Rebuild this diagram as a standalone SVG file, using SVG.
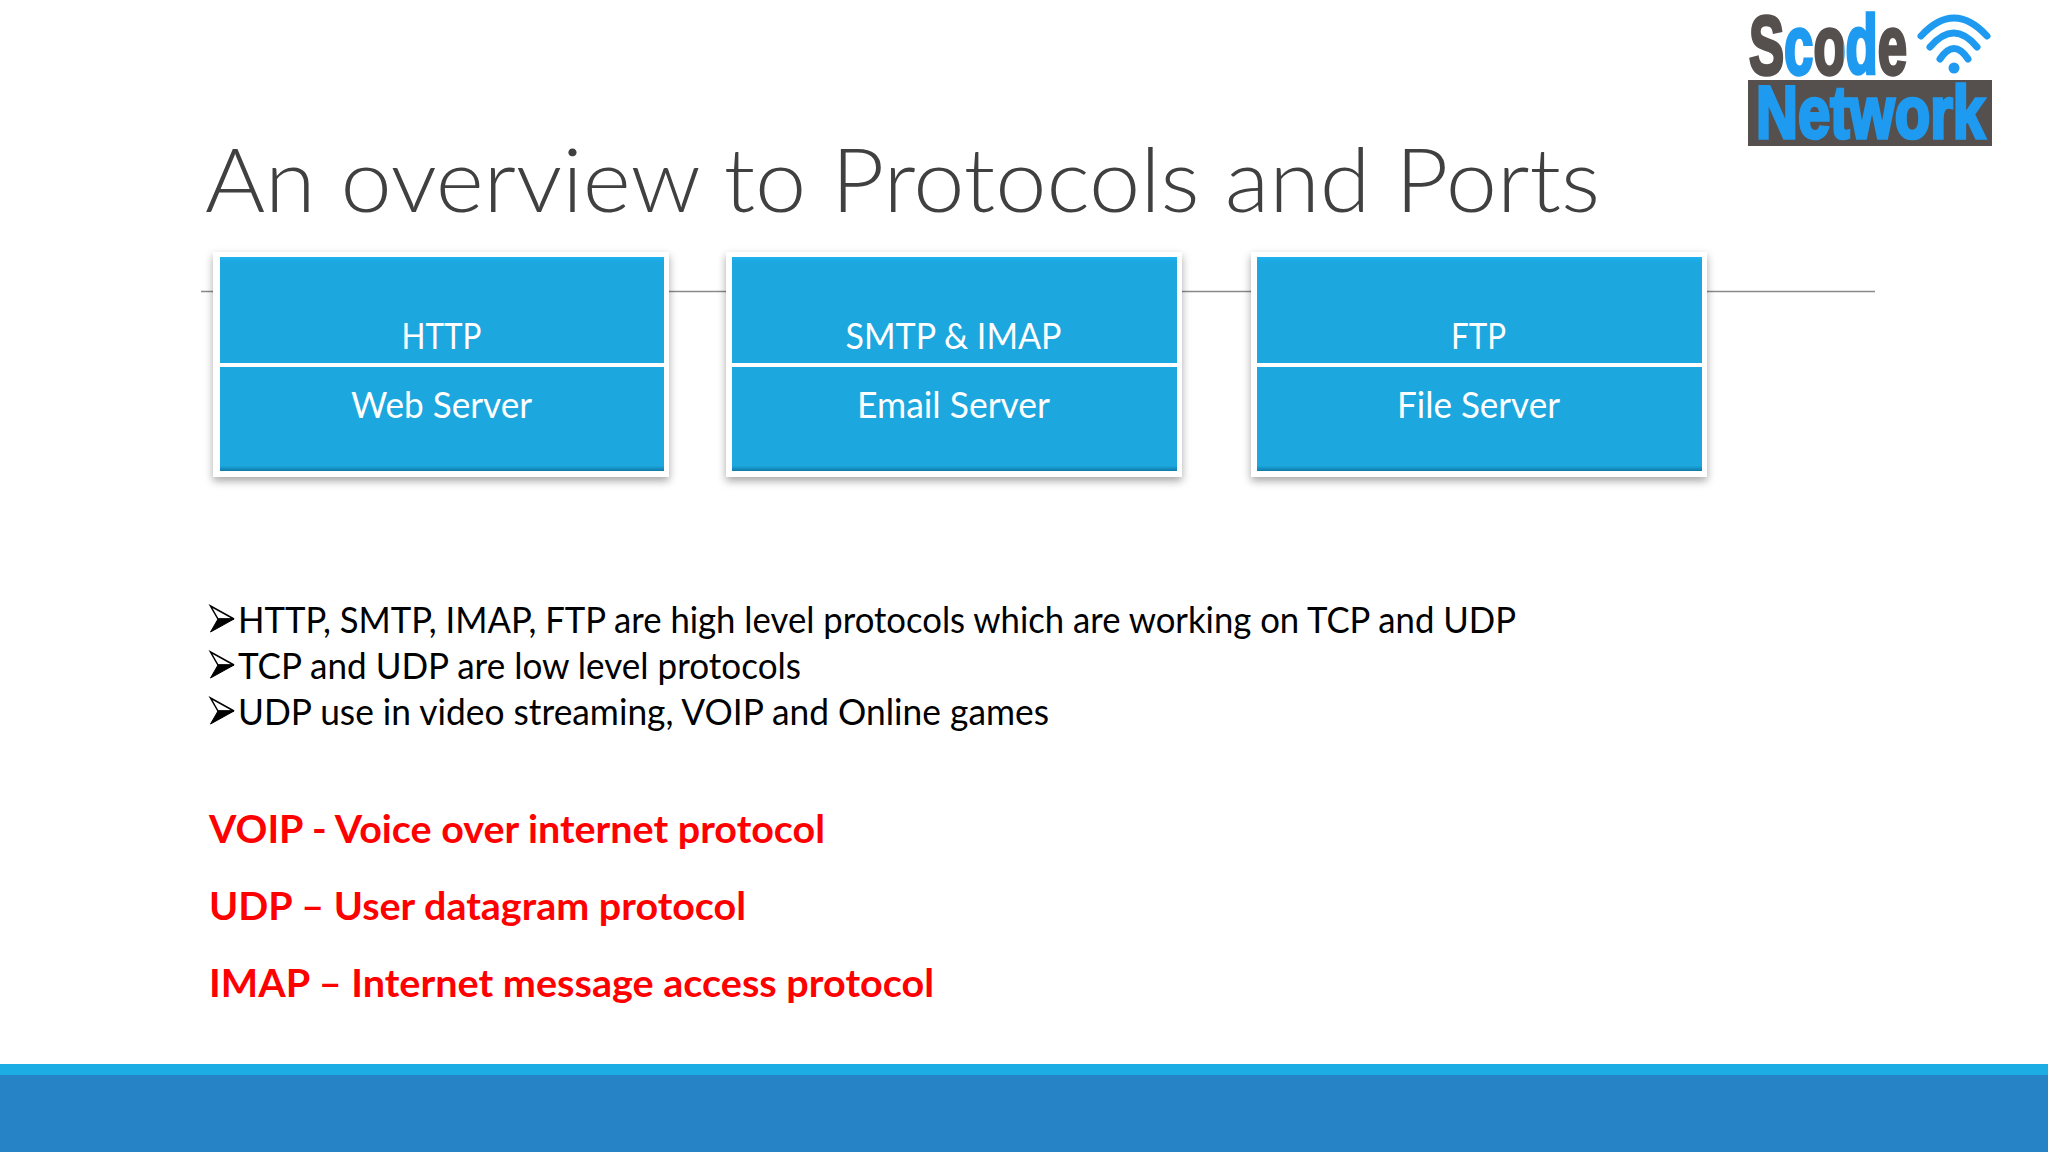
<svg xmlns="http://www.w3.org/2000/svg" width="2048" height="1152" viewBox="0 0 2048 1152">
<style>
text{font-family:Lato,"Open Sans",Arial,sans-serif}
.t{font-size:88px;font-weight:300;fill:#404040}
.w{font-size:36px;fill:#fff;text-anchor:middle}
.b{font-size:36px;fill:#000}
.r{font-size:39px;font-weight:700;fill:#f00}
.o{fill:#fff;filter:url(#sh)}
.c1{fill:url(#cellTop)}
.c2{fill:url(#cellBottom)}
.d{fill:none;stroke:#1e9bf0;stroke-width:7;stroke-linecap:round}
.l{font-family:"Liberation Sans",Arial,sans-serif;font-weight:700;stroke-width:3.500}
.u{fill:#1e9bf0;stroke:#1e9bf0}
.s{fill:url(#scode);stroke:url(#scode)}
</style>
<defs>
<filter id="sh" x="-5%" y="-5%" width="110%" height="115%"><feDropShadow dx="0" dy="4" stdDeviation="4.500" flood-color="#000" flood-opacity=".35"/></filter>
<linearGradient id="cellTop" x1="0" y1="0" x2="0" y2="1"><stop offset="0" stop-color="#20b2ee"/><stop offset=".05" stop-color="#1ca7df"/><stop offset="1" stop-color="#1ca7df"/></linearGradient>
<linearGradient id="cellBottom" x1="0" y1="0" x2="0" y2="1"><stop offset="0" stop-color="#1ca7df"/><stop offset=".95" stop-color="#1ca7df"/><stop offset="1" stop-color="#0f7aa8"/></linearGradient>
<linearGradient id="scode" gradientUnits="userSpaceOnUse" x1="1749" y1="0" x2="1909" y2="0">
<stop offset=".21" stop-color="#55504e"/><stop offset=".21" stop-color="#1e9bf0"/><stop offset=".40" stop-color="#1e9bf0"/><stop offset=".40" stop-color="#55504e"/><stop offset=".59" stop-color="#55504e"/><stop offset=".59" stop-color="#1e9bf0"/><stop offset=".79" stop-color="#1e9bf0"/><stop offset=".79" stop-color="#55504e"/>
</linearGradient>
<g id="arrow"><path d="M0.500 0L24 13H8Z" fill="#fff" stroke="#000" stroke-width="1.500" stroke-linejoin="miter"/><path d="M0.500 26L24 13H8Z" fill="#000" stroke="#000" stroke-width="1"/></g>
</defs>
<rect width="2048" height="1152" fill="#fff"/>
<g id="connectors"><line x1="201" y1="291.500" x2="1875" y2="291.500" stroke="#8a8a8a" stroke-width="1.500"/></g>
<text class="t" x="205" y="212" textLength="1395" lengthAdjust="spacingAndGlyphs">An overview to Protocols and Ports</text>
<g id="http"><rect class="o" x="213" y="252" width="456" height="225"/><rect class="c1" x="220" y="257" width="444" height="106"/><rect class="c2" x="220" y="367" width="444" height="104"/>
<text class="w" x="441.500" y="349" textLength="80" lengthAdjust="spacingAndGlyphs">HTTP</text><text class="w" x="441.500" y="418" textLength="181" lengthAdjust="spacingAndGlyphs">Web Server</text></g>
<g id="smtp"><rect class="o" x="726" y="252" width="456" height="225"/><rect class="c1" x="732" y="257" width="445" height="106"/><rect class="c2" x="732" y="367" width="445" height="104"/>
<text class="w" x="953.500" y="349" textLength="216" lengthAdjust="spacingAndGlyphs">SMTP &amp; IMAP</text><text class="w" x="953.500" y="418" textLength="193" lengthAdjust="spacingAndGlyphs">Email Server</text></g>
<g id="ftp"><rect class="o" x="1251" y="252" width="456" height="225"/><rect class="c1" x="1257" y="257" width="445" height="106"/><rect class="c2" x="1257" y="367" width="445" height="104"/>
<text class="w" x="1478.500" y="349" textLength="55" lengthAdjust="spacingAndGlyphs">FTP</text><text class="w" x="1478.500" y="418" textLength="163" lengthAdjust="spacingAndGlyphs">File Server</text></g>
<use href="#arrow" x="210" y="606"/><use href="#arrow" x="210" y="652"/><use href="#arrow" x="210" y="698"/>
<text class="b" x="238" y="633" textLength="1278" lengthAdjust="spacingAndGlyphs">HTTP, SMTP, IMAP, FTP are high level protocols which are working on TCP and UDP</text>
<text class="b" x="238" y="679" textLength="563" lengthAdjust="spacingAndGlyphs">TCP and UDP are low level protocols</text>
<text class="b" x="238" y="725" textLength="811" lengthAdjust="spacingAndGlyphs">UDP use in video streaming, VOIP and Online games</text>
<text class="r" x="209" y="843" textLength="616" lengthAdjust="spacingAndGlyphs">VOIP - Voice over internet protocol</text>
<text class="r" x="209" y="920" textLength="537" lengthAdjust="spacingAndGlyphs">UDP – User datagram protocol</text>
<text class="r" x="209" y="997" textLength="725" lengthAdjust="spacingAndGlyphs">IMAP – Internet message access protocol</text>
<rect y="1064" width="2048" height="11" fill="#1cade4"/><rect y="1075" width="2048" height="77" fill="#2683c6"/>
<g id="logo">
<rect x="1748" y="80" width="244" height="66" fill="#55504e"/>
<text class="l u" x="1756" y="138" font-size="74" textLength="229" lengthAdjust="spacingAndGlyphs">Network</text>
<text class="l s" x="1749" y="74" font-size="84" textLength="158" lengthAdjust="spacingAndGlyphs">Scode</text>
<path class="d" d="M1921 36Q1954 0 1987 36"/><path class="d" d="M1930 47Q1954 19 1977 47"/><path class="d" d="M1940 59Q1954 38 1968 59"/><circle cx="1954" cy="68" r="5.500" fill="#1e9bf0"/>
</g>
</svg>
